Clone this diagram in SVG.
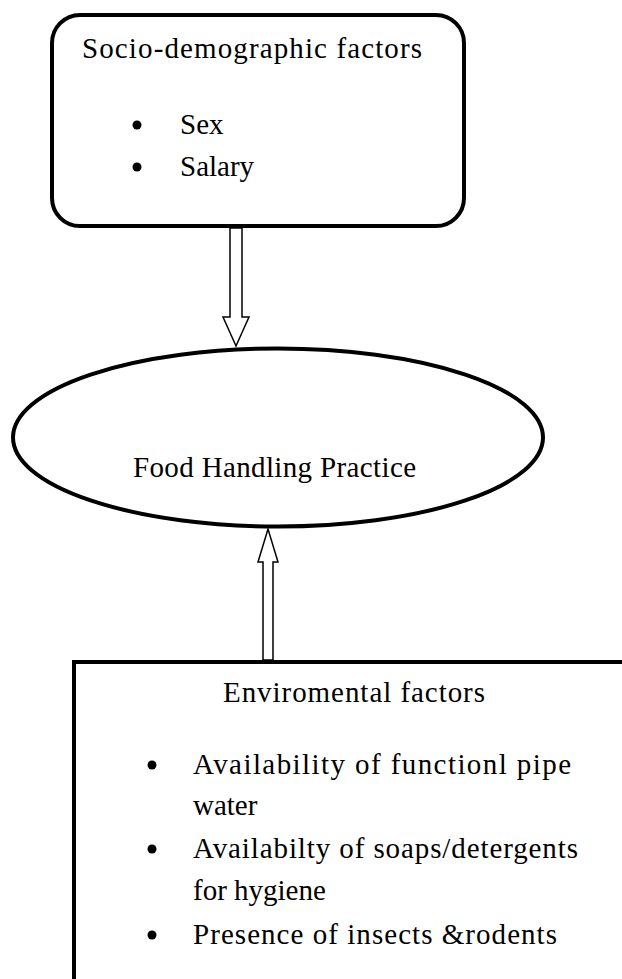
<svg xmlns="http://www.w3.org/2000/svg" width="622" height="979" viewBox="0 0 622 979">
<style>
.box{fill:#fff;stroke:#000;stroke-width:4}
.arrow{fill:#fff;stroke:#000;stroke-width:1.5;stroke-linejoin:miter}
.t{font-family:"Liberation Serif","Times New Roman",serif;font-size:29px;fill:#000}
.b{fill:#000}
</style>
<rect width="622" height="979" fill="#fff"/>
<g id="connectors">
<path class="arrow" d="M230,228 L242,228 L242,317 L249,317 L236,346 L223,317 L230,317 Z"/>
<path class="arrow" d="M263,660 L273,660 L273,562 L278,562 L268,529 L258,562 L263,562 Z"/>
</g>
<g id="socio">
<rect class="box" x="52" y="15" width="412" height="211" rx="28" ry="28"/>
<text class="t" x="82" y="58" textLength="340" lengthAdjust="spacing">Socio-demographic  factors</text>
<circle class="b" cx="137" cy="125" r="4.5"/>
<text class="t" x="180" y="134">Sex</text>
<circle class="b" cx="137" cy="167" r="4.5"/>
<text class="t" x="180" y="176">Salary</text>
</g>
<g id="practice">
<ellipse class="box" cx="278" cy="437.5" rx="265" ry="89"/>
<text class="t" x="133" y="477" textLength="283" lengthAdjust="spacing">Food Handling  Practice</text>
</g>
<g id="environmental">
<rect class="box" x="74" y="662" width="600" height="400"/>
<text class="t" x="223" y="702" textLength="262" lengthAdjust="spacing">Enviromental  factors</text>
<circle class="b" cx="152" cy="765" r="4.5"/>
<text class="t" x="193" y="774" textLength="378" lengthAdjust="spacing">Availability  of functionl   pipe</text>
<text class="t" x="193" y="815">water</text>
<circle class="b" cx="152" cy="849" r="4.5"/>
<text class="t" x="193" y="858" textLength="385" lengthAdjust="spacing">Availabilty  of soaps/detergents</text>
<text class="t" x="193" y="900">for hygiene</text>
<circle class="b" cx="152" cy="935" r="4.5"/>
<text class="t" x="193" y="944" textLength="364" lengthAdjust="spacing">Presence  of insects  &amp;rodents</text>
</g>
</svg>
